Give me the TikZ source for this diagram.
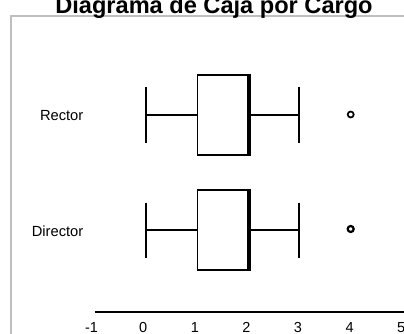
\documentclass[tikz,border=0pt]{standalone}
\usepackage{fontspec}
\setmainfont{Liberation Sans}
\begin{document}
\begin{tikzpicture}[x=1pt,y=-1pt]
	\tikzstyle{box}=[rectangle,draw=black,line width=1.5pt,minimum width=50.8pt,minimum height=80pt,inner sep=0pt]
	\tikzstyle{median}=[line width=4pt]
	\tikzstyle{whisker}=[line width=1.7pt]
	%\tikzstyle{whisker}=[line width=1pt]
	\tikzstyle{outlier}=[circle,draw=black,line width=1.7pt,minimum size=6pt,inner sep=0pt]
	\tikzstyle{label}=[anchor=east,inner sep=0pt,font=\fontsize{14.7}{16}\selectfont]
	\tikzstyle{ticklabel}=[anchor=base,inner sep=0pt,font=\fontsize{14.5}{16}\selectfont]
	\clip (0,0) rectangle (404,334);
	\draw[black!25,line width=2pt] (11,16) rectangle (420,350);
	\node[anchor=base,font=\bfseries\fontsize{23.6}{28}\selectfont] (title) at (214,13.5) {Diagrama de Caja por Cargo};
	% Rector
	\node[box] (rector-box) at (223.1,115) {};
	\coordinate (rector-min) at (146,115);
	\coordinate (rector-max) at (299.3,115);
	\draw[median] (rector-box.north east) -- (rector-box.south east);
	\draw[whisker] (rector-min) -- (rector-box.west);
	\draw[whisker] (rector-box.east) -- (rector-max);
	\draw[whisker] (rector-min) ++(0,-27.5) -- ++(0,55);
	\draw[whisker] (rector-max) ++(0,-27.5) -- ++(0,55);
	\node[outlier] (rector-out) at (350.7,114.5) {};
	\node[label] (rector-label) at (83.5,116) {Rector};
	% Director
	\node[box] (director-box) at (223.1,230) {};
	\coordinate (director-min) at (146,230);
	\coordinate (director-max) at (299.3,230);
	\draw[median] (director-box.north east) -- (director-box.south east);
	\draw[whisker] (director-min) -- (director-box.west);
	\draw[whisker] (director-box.east) -- (director-max);
	\draw[whisker] (director-min) ++(0,-27.5) -- ++(0,55);
	\draw[whisker] (director-max) ++(0,-27.5) -- ++(0,55);
	\node[outlier,line width=2.2pt] (director-out) at (350.7,229) {};
	\node[label] (director-label) at (83.5,231) {Director};
	% axis
	\coordinate (axis-start) at (94.5,312);
	\coordinate (axis-end) at (404,312);
	\draw[line width=2pt] (axis-start) -- (axis-end);
	\foreach \v in {-1,...,5}
		\node[ticklabel] (tick\v) at ({143.2+51.6*\v},332) {\v};
\end{tikzpicture}
\end{document}
